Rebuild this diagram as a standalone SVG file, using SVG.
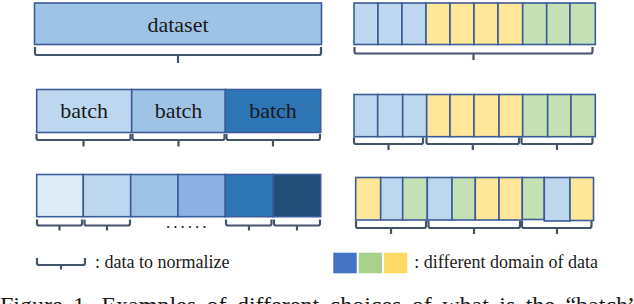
<svg xmlns="http://www.w3.org/2000/svg" width="634" height="304" viewBox="0 0 634 304">
<style>
.c{stroke:#3b5c98;stroke-width:1.6}
.br{fill:none;stroke:#44546a;stroke-width:2.2;stroke-linecap:butt}
text{font-family:'Liberation Serif','Times New Roman',serif;fill:#1a1a1a}
.lb{font-size:22px;text-anchor:middle}
.lg{font-size:18px}
.b1{fill:#deebf7}.b2{fill:#bdd7ee}.b3{fill:#9dc3e6}.b4{fill:#8eb1e4}.b5{fill:#2e75b6}.b6{fill:#1f4e79}
.y{fill:#ffe699}.g{fill:#c5e0b4}.u{fill:#bdd7ee}
</style>
<rect width="634" height="304" fill="#fff"/>
<g id="dataset"><rect class="c b3" x="34.5" y="3" width="287" height="41.5"/><text class="lb" font-family="Liberation Serif, serif" x="178" y="31.5">dataset</text></g>
<g id="batch1"><rect class="c b2" x="36.7" y="89.5" width="95" height="43"/><text class="lb" font-family="Liberation Serif, serif" x="84.2" y="118.3">batch</text></g>
<g id="batch2"><rect class="c b3" x="131.7" y="89.5" width="93.6" height="43"/><text class="lb" font-family="Liberation Serif, serif" x="178.5" y="118.3">batch</text></g>
<g id="batch3"><rect class="c b5" x="225.3" y="89.5" width="95.4" height="43"/><text class="lb" font-family="Liberation Serif, serif" x="273" y="118.3">batch</text></g>
<g id="s1"><rect class="c b1" x="36.7" y="174.5" width="46.6" height="42.2"/></g>
<g id="s2"><rect class="c b2" x="83.3" y="174.5" width="47.4" height="42.2"/></g>
<g id="s3"><rect class="c b3" x="130.7" y="174.5" width="47.3" height="42.2"/></g>
<g id="s4"><rect class="c b4" x="178" y="174.5" width="47.3" height="42.2"/></g>
<g id="s5"><rect class="c b5" x="225.3" y="174.5" width="48" height="42.2"/></g>
<g id="s6"><rect class="c b6" x="273.3" y="174.5" width="47.4" height="42.2"/></g>
<text font-family="Liberation Serif, serif" x="166" y="228" font-size="17" letter-spacing="3">......</text>
<g id="r1">
<rect class="c u" x="354" y="3" width="24" height="41.5"/><rect class="c u" x="378" y="3" width="24" height="41.5"/><rect class="c u" x="402" y="3" width="24" height="41.5"/>
<rect class="c y" x="426" y="3" width="24" height="41.5"/><rect class="c y" x="450" y="3" width="24" height="41.5"/><rect class="c y" x="474" y="3" width="24" height="41.5"/><rect class="c y" x="498" y="3" width="24.7" height="41.5"/>
<rect class="c g" x="522.7" y="3" width="24" height="41.5"/><rect class="c g" x="546.7" y="3" width="23.3" height="41.5"/><rect class="c g" x="570" y="3" width="25.3" height="41.5"/>
</g>
<g id="r2">
<rect class="c u" x="354" y="94.5" width="23.7" height="42.2"/><rect class="c u" x="377.7" y="94.5" width="25" height="42.2"/><rect class="c u" x="402.7" y="94.5" width="24" height="42.2"/>
<rect class="c y" x="426.7" y="94.5" width="23.3" height="42.2"/><rect class="c y" x="450" y="94.5" width="24" height="42.2"/><rect class="c y" x="474" y="94.5" width="25" height="42.2"/><rect class="c y" x="499" y="94.5" width="23.7" height="42.2"/>
<rect class="c g" x="522.7" y="94.5" width="25" height="42.2"/><rect class="c g" x="547.7" y="94.5" width="23.3" height="42.2"/><rect class="c g" x="571" y="94.5" width="24.3" height="42.2"/>
</g>
<g id="r3">
<rect class="c y" x="355.7" y="177.5" width="25" height="42.5"/><rect class="c u" x="380.7" y="177.5" width="22" height="42.5"/><rect class="c g" x="402.7" y="177.5" width="24.6" height="42.5"/>
<rect class="c u" x="427.3" y="177.5" width="24.7" height="42.5"/><rect class="c g" x="452" y="177.5" width="23.3" height="42.5"/><rect class="c y" x="475.3" y="177.5" width="23.7" height="42.5"/><rect class="c y" x="499" y="177.5" width="23.3" height="42.5"/>
<rect class="c g" x="522.3" y="177.5" width="22" height="42"/><rect class="c u" x="544.3" y="177.5" width="25.7" height="43.5"/><rect class="c y" x="570" y="177.5" width="23.5" height="43"/>
</g>
<g id="braces">
<path class="br" d="M35 47V53Q35 55 37 55H319Q321 55 321 53V47M178 55V63"/>
<path class="br" d="M36.5 134V138Q36.5 140 38.5 140H128.5Q130.5 140 130.5 138V134M83.5 140V146.5"/>
<path class="br" d="M132.5 134V138Q132.5 140 134.5 140H222.5Q224.5 140 224.5 138V134M178.5 140V146.5"/>
<path class="br" d="M226.5 134V138Q226.5 140 228.5 140H318Q320 140 320 138V134M273 140V146.5"/>
<path class="br" d="M37 219.5V223.5Q37 225.5 39 225.5H80Q82 225.5 82 223.5V219.5M59.5 225.5V230.5"/>
<path class="br" d="M84.5 219.5V223.5Q84.5 225.5 86.5 225.5H128Q130 225.5 130 223.5V219.5M107 225.5V230.5"/>
<path class="br" d="M226 219.5V223.5Q226 225.5 228 225.5H269.5Q271.5 225.5 271.5 223.5V219.5M249 225.5V230.5"/>
<path class="br" d="M274 219.5V223.5Q274 225.5 276 225.5H318Q320 225.5 320 223.5V219.5M297 225.5V230.5"/>
<path class="br" d="M354.5 47V51.5Q354.5 53.5 356.5 53.5H590.5Q592.5 53.5 592.5 51.5V47M473.5 53.5V60"/>
<path class="br" d="M354 137.5V142Q354 144 356 144H421Q423 144 423 142V137.5M388.5 144V150"/>
<path class="br" d="M426.5 137.5V142Q426.5 144 428.5 144H517Q519 144 519 142V137.5M472.8 144V150"/>
<path class="br" d="M521.5 137.5V142Q521.5 144 523.5 144H590.5Q592.5 144 592.5 142V137.5M557 144V150"/>
<path class="br" d="M356 221V226Q356 228 358 228H424Q426 228 426 226V221M391 228V234"/>
<path class="br" d="M428.5 221V226Q428.5 228 430.5 228H518Q520 228 520 226V221M474 228V234"/>
<path class="br" d="M522 221V226Q522 228 524 228H589.5Q591.5 228 591.5 226V221M557 228V234"/>
</g>
<g id="legend-brace">
<path class="br" d="M37 258V263Q37 265 39 265H83Q85 265 85 263V258M61 265V269.5"/>
<text class="lg" font-family="Liberation Serif, serif" x="95" y="268.3">: data to normalize</text>
</g>
<g id="legend-domain">
<rect x="333.3" y="252.7" width="23.4" height="20.6" fill="#4472c4"/>
<rect x="358.7" y="252.7" width="23.3" height="20.6" fill="#a9d18e"/>
<rect x="384" y="252.7" width="23.3" height="20.6" fill="#ffd966"/>
<text class="lg" font-family="Liberation Serif, serif" x="414.3" y="268.3">: different domain of data</text>
</g>
<text font-family="Liberation Serif, serif" x="0" y="312.5" font-size="24" word-spacing="4.4" fill="#111">Figure 1.  Examples of different choices of what is the “batch”</text>
</svg>
